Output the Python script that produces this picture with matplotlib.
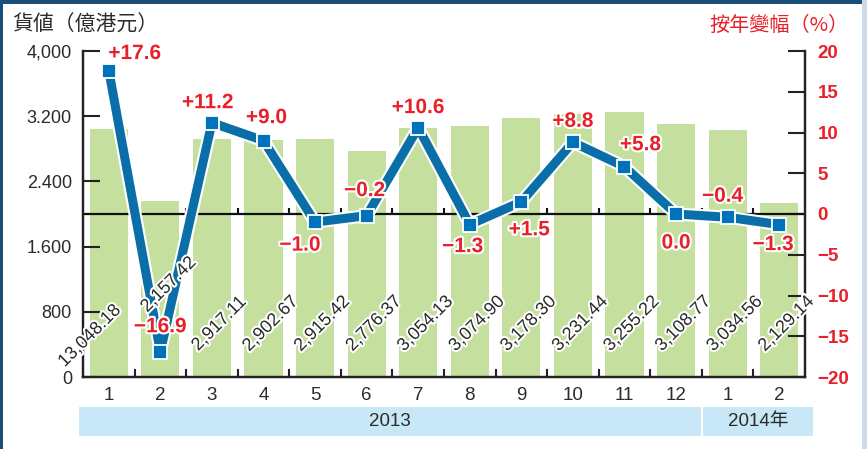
import matplotlib
matplotlib.use("Agg")
import matplotlib.pyplot as plt
import matplotlib.patheffects as pe
from matplotlib import font_manager
from matplotlib.patches import Rectangle
import matplotlib.transforms as mtrans

# ---------------- data ----------------
months = ["1", "2", "3", "4", "5", "6", "7", "8", "9", "10", "11", "12", "1", "2"]
export_values = [3048.18, 2157.42, 2917.11, 2902.67, 2915.42, 2776.37, 3054.13,
                 3074.90, 3178.30, 3231.44, 3255.22, 3108.77, 3034.56, 2129.14]
value_labels = ["13,048.18", "2,157.42", "2,917.11", "2,902.67", "2,915.42", "2,776.37",
                "3,054.13", "3,074.90", "3,178.30", "3,231.44", "3,255.22", "3,108.77",
                "3,034.56", "2,129.14"]
yoy_change = [17.6, -16.9, 11.2, 9.0, -1.0, -0.2, 10.6, -1.3, 1.5, 8.8, 5.8, 0.0, -0.4, -1.3]
yoy_labels = ["+17.6", "\u221216.9", "+11.2", "+9.0", "\u22121.0", "\u22120.2", "+10.6",
              "\u22121.3", "+1.5", "+8.8", "+5.8", "0.0", "\u22120.4", "\u22121.3"]
left_ticks = [0, 800, 1600, 2400, 3200, 4000]
left_tick_labels = ["0", "800", "1.600", "2.400", "3.200", "4,000"]
right_ticks = [-20, -15, -10, -5, 0, 5, 10, 15, 20]
right_tick_labels = ["\u221220", "\u221215", "\u221210", "\u22125", "0", "5", "10", "15", "20"]
year_labels = ["2013", "2014年"]
left_title = "貨値（億港元）"
right_title = "按年變幅（%）"

# ---------------- styling ----------------
names = {f.name for f in font_manager.fontManager.ttflist}
NARROW = "Liberation Sans Narrow" if "Liberation Sans Narrow" in names else "Liberation Sans"
SANS = "Liberation Sans"
CJK = "Noto Sans CJK TC"
plt.rcParams["font.family"] = [SANS, CJK, "DejaVu Sans"]

BAR = "#c4df9e"
LINE = "#0a6ea8"
MARK = "#0071bb"
RED = "#e8202a"
TXT = "#2b2b2b"
NAVY = "#1c4f78"

fig = plt.figure(figsize=(8.67, 4.49), dpi=100)
fig.patch.set_facecolor("white")
ax = fig.add_axes([83 / 867, 1 - 377 / 449, (805 - 83) / 867, (377 - 51) / 449])
ax2 = ax.twinx()

x = list(range(1, len(months) + 1))

# bars
ax.bar(x, export_values, width=0.74, color=BAR, zorder=1)
ax.set_xlim(0.5, len(months) + 0.5)
ax.set_ylim(0, 4000)
ax.set_yticks(left_ticks)
ax.set_yticklabels(left_tick_labels, fontfamily=NARROW, fontsize=13, color=TXT)
ax.tick_params(axis="y", direction="in", length=12, width=1.5, pad=8, colors="#222")
ax.tick_params(axis="y", labelcolor=TXT)
ax.set_xticks(x)
ax.set_xticklabels(months, fontfamily=NARROW, fontsize=13.5, color=TXT)
ax.tick_params(axis="x", length=0, pad=7)
ax.set_xticks([i + 0.5 for i in x[:-1]], minor=True)
ax.tick_params(axis="x", which="minor", direction="in", length=6, width=1.5, colors="#222")

for a in (ax, ax2):
    a.spines["top"].set_visible(False)
    for s in ("left", "right", "bottom"):
        a.spines[s].set_linewidth(1.6)
        a.spines[s].set_color("#222")

# right axis
ax2.set_ylim(-20, 20)
ax2.set_yticks(right_ticks)
ax2.set_yticklabels(right_tick_labels, fontfamily=SANS, fontweight="bold", fontsize=13.5, color=RED)
ax2.tick_params(axis="y", direction="in", length=12, width=1.5, pad=9, colors="#222")
ax2.tick_params(axis="y", labelcolor=RED)

# zero line with small ticks
ax2.axhline(0, color="#111", lw=1.6, zorder=2)
ax2.vlines([i + 0.5 for i in x[:-1]], 0, 0.75, color="#111", lw=1.5, zorder=2)

# line with markers
ax2.plot(x, yoy_change, color=LINE, lw=6.5, solid_joinstyle="bevel", solid_capstyle="butt",
         zorder=4, path_effects=[pe.Stroke(linewidth=9.5, foreground="white"), pe.Normal()])
ax2.plot(x, yoy_change, ls="none", marker="s", ms=10.5, mfc=MARK, mec="white", mew=1.3, zorder=5)

# bar value labels (rotated)
label_dx = [-0.37, 0.16] + [0.14] * 12
label_y = [500, 1129] + [650] * 12
for xi, ly, dx, lab in zip(x, label_y, label_dx, value_labels):
    ax2.text(xi + dx, ly, lab, transform=ax.transData, rotation=45, rotation_mode="anchor",
             ha="center", va="center", fontfamily=NARROW, fontsize=13, color=TXT, zorder=6,
             path_effects=[pe.withStroke(linewidth=3, foreground="white")])

# percentage labels
pct_offsets = [(26, 17), (0, 25), (-4, 20), (3, 23), (-15, -23), (-2, 25), (0, 20),
               (-7, -22), (8, -28), (0, 21), (16, 22), (0, -29), (-5, 21), (-6, -20)]
for xi, v, lab, off in zip(x, yoy_change, yoy_labels, pct_offsets):
    ax2.annotate(lab, (xi, v), xytext=off, textcoords="offset pixels", ha="center", va="center",
                 fontfamily=SANS, fontweight="bold", fontsize=15, color=RED, zorder=7,
                 path_effects=[pe.withStroke(linewidth=3, foreground="white")])

# year bands below the axis
blend = mtrans.blended_transform_factory(ax.transData, fig.transFigure)
band_y0, band_y1 = 1 - 436 / 449, 1 - 407 / 449
bands = [(0.42, 12.48), (12.52, 14.65)]
for (b0, b1), lab in zip(bands, year_labels):
    fig.patches.append(Rectangle((b0, band_y0), b1 - b0, band_y1 - band_y0, transform=blend,
                                 facecolor="#c8e8f8", edgecolor="none"))
    fig.text((b0 + b1) / 2, (band_y0 + band_y1) / 2, lab, transform=blend, ha="center",
             va="center", fontsize=13.5, color=TXT, family=[NARROW, CJK])

# titles
fig.text(12 / 867, 1 - 25 / 449, left_title, ha="left", va="center", fontsize=15,
         color=TXT, family=[CJK])
fig.text(849 / 867, 1 - 25 / 449, right_title, ha="right", va="center", fontsize=14.5,
         color=RED, family=[CJK])

# frame decorations
fig.patches.append(Rectangle((0, 1 - 4 / 449), 862 / 867, 4 / 449, transform=fig.transFigure,
                             facecolor=NAVY, edgecolor="none"))
fig.patches.append(Rectangle((0, 0), 3 / 867, 1, transform=fig.transFigure,
                             facecolor=NAVY, edgecolor="none"))
fig.patches.append(Rectangle((862 / 867, 0), 5 / 867, 1, transform=fig.transFigure,
                             facecolor="#cddce8", edgecolor="none"))

fig.savefig("out.png", dpi=100)
